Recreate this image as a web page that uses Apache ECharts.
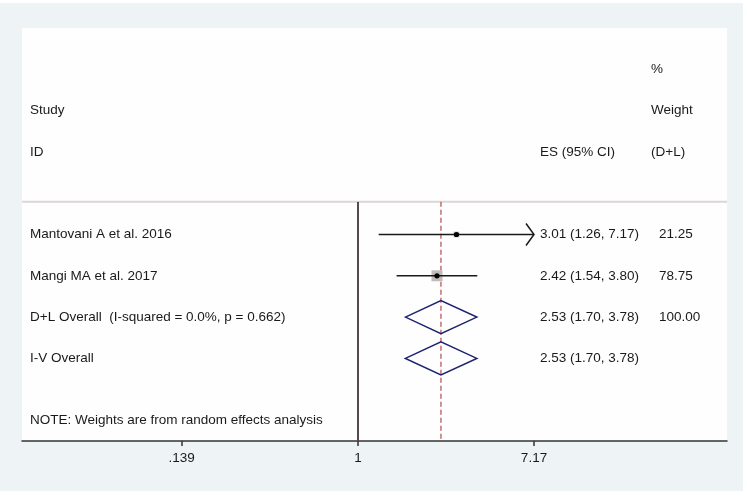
<!DOCTYPE html>
<html>
<head>
<meta charset="utf-8">
<script src="https://cdn.jsdelivr.net/npm/echarts@6/dist/echarts.min.js"></script>
<style>
html,body{margin:0;padding:0;background:#fff;}
#c{position:absolute;left:0;top:3px;width:743px;height:488px;}
</style>
</head>
<body>
<div id="c"></div>
<script>
// ---- data ----
const studyLabels = ["Mantovani A et al. 2016", "Mangi MA et al. 2017"];
const studyES = [3.01, 2.42];
const studyLo = [1.26, 1.54];
const studyHi = [7.17, 3.80];
const studyWeight = [21.25, 78.75];

const overallLabels = ["D+L Overall  (I-squared = 0.0%, p = 0.662)", "I-V Overall"];
const overallES = [2.53, 2.53];
const overallLo = [1.70, 1.70];
const overallHi = [3.78, 3.78];
const overallWeight = ["100.00", ""];

const tickValues = [0.139, 1, 7.17];
const tickLabels = [".139", "1", "7.17"];

const headerLeft = ["Study", "ID"];
const headerES = "ES (95% CI)";
const headerWeight = ["%", "Weight", "(D+L)"];
const noteText = "NOTE: Weights are from random effects analysis";

// ---- layout ----
const FONT = '13.5px "Liberation Sans", Arial, sans-serif';
const TXT = '#1a1a1a';
const sepRow = 4.21;
const firstRow = 5;
const colLabel = 8, colES = 518, colW = 629;   // offsets inside grid (text axis units)
const ln = Math.log;

// mark data: [lnES, lnLo, lnHi, row, weight, kind]
const markData = [];
studyES.forEach((v, i) => markData.push([ln(v), ln(studyLo[i]), ln(studyHi[i]), firstRow + i, studyWeight[i], 0]));
overallES.forEach((v, i) => markData.push([ln(v), ln(overallLo[i]), ln(overallHi[i]), firstRow + studyES.length + i, 0, 1]));
const maxW = Math.max(...studyWeight);
const lnMaxTick = ln(tickValues[tickValues.length - 1]);

// text data: [x, row, text]
const textData = [];
textData.push([colW, 1, headerWeight[0]]);
textData.push([colLabel, 2, headerLeft[0]]);
textData.push([colW, 2, headerWeight[1]]);
textData.push([colLabel, 3, headerLeft[1]]);
textData.push([colES, 3, headerES]);
textData.push([colW, 3, headerWeight[2]]);
const fmtCI = (e, l, h) => e.toFixed(2) + ' (' + l.toFixed(2) + ', ' + h.toFixed(2) + ')';
studyLabels.forEach((s, i) => {
  textData.push([colLabel, firstRow + i, s]);
  textData.push([colES, firstRow + i, fmtCI(studyES[i], studyLo[i], studyHi[i])]);
  textData.push([colW + 8, firstRow + i, studyWeight[i].toFixed(2)]);
});
overallLabels.forEach((s, i) => {
  const r = firstRow + studyLabels.length + i;
  textData.push([colLabel, r, s]);
  textData.push([colES, r, fmtCI(overallES[i], overallLo[i], overallHi[i])]);
  if (overallWeight[i]) textData.push([colW + 8, r, overallWeight[i]]);
});
textData.push([colLabel, 9.5, noteText]);

const xMin = -3.761, xMax = 4.130;

const chart = echarts.init(document.getElementById('c'), null, {renderer: 'canvas'});
chart.setOption({
  backgroundColor: '#eef3f5',
  animation: false,
  grid: {left: 22, right: 16, top: 25, bottom: 50, show: true, backgroundColor: '#fefefe', borderWidth: 0},
  xAxis: [{
    type: 'value', min: xMin, max: xMax,
    axisLine: {show: true, onZero: false, lineStyle: {color: '#333', width: 1.5}},
    axisTick: {show: true, customValues: tickValues.map(ln), length: 5, lineStyle: {color: '#333', width: 1.5}},
    axisLabel: {show: true, customValues: tickValues.map(ln), margin: 10, color: TXT, fontSize: 13.5,
      fontFamily: '"Liberation Sans", Arial, sans-serif',
      formatter: v => { let b = 0; tickValues.forEach((t, i) => { if (Math.abs(ln(t) - v) < Math.abs(ln(tickValues[b]) - v)) b = i; }); return tickLabels[b]; }},
    splitLine: {show: false}
  }, {
    type: 'value', min: 0, max: 705, show: false
  }],
  yAxis: {type: 'value', min: 0, max: 10, inverse: true, show: false},
  series: [{
    type: 'custom',
    xAxisIndex: 0,
    coordinateSystem: 'cartesian2d',
    data: [[0]],
    silent: true,
    renderItem: (params, api) => {
      const top = api.coord([0, sepRow])[1];
      const bot = api.coord([0, 10])[1];
      const xl = api.coord([xMin, 0])[0], xr = api.coord([xMax, 0])[0];
      const x1 = api.coord([0, 0])[0];
      const xo = api.coord([ln(overallES[0]), 0])[0];
      return {type: 'group', children: [
        {type: 'line', shape: {x1: xl, y1: top, x2: xr, y2: top}, style: {stroke: '#ddd6d6', lineWidth: 2}},
        {type: 'line', shape: {x1: x1, y1: top, x2: x1, y2: bot}, style: {stroke: '#554a4a', lineWidth: 2}},
        {type: 'line', shape: {x1: xo, y1: top, x2: xo, y2: bot}, style: {stroke: '#b85a5a', lineWidth: 1.3, lineDash: [5, 3]}}
      ]};
    }
  }, {
    type: 'custom',
    xAxisIndex: 0,
    data: markData,
    silent: true,
    renderItem: (params, api) => {
      const e = api.value(0), l = api.value(1), h = api.value(2), r = api.value(3), w = api.value(4), kind = api.value(5);
      const pe = api.coord([e, r]), pl = api.coord([l, r]), ph = api.coord([h, r]);
      const rowH = api.size([0, 1])[1];
      if (kind === 1) {
        const dh = rowH * 0.4;
        return {type: 'polygon', shape: {points: [[pl[0], pl[1]], [pe[0], pe[1] - dh], [ph[0], ph[1]], [pe[0], pe[1] + dh]]},
          style: {fill: 'none', stroke: '#1c2270', lineWidth: 1.5}};
      }
      const ch = [];
      const bs = 11 * Math.sqrt(w / maxW);
      ch.push({type: 'rect', shape: {x: pe[0] - bs / 2, y: pe[1] - bs / 2, width: bs, height: bs}, style: {fill: '#c0bcbc'}});
      ch.push({type: 'line', shape: {x1: pl[0], y1: pl[1], x2: ph[0], y2: ph[1]}, style: {stroke: '#1a1a1a', lineWidth: 1.5}});
      if (h >= lnMaxTick - 1e-6) {
        ch.push({type: 'polyline', shape: {points: [[ph[0] - 8, ph[1] - 11], [ph[0], ph[1]], [ph[0] - 8, ph[1] + 11]]},
          style: {fill: 'none', stroke: '#1a1a1a', lineWidth: 1.5}});
      }
      ch.push({type: 'circle', shape: {cx: pe[0], cy: pe[1], r: 2.6}, style: {fill: '#000'}});
      return {type: 'group', children: ch};
    }
  }, {
    type: 'custom',
    xAxisIndex: 1,
    data: textData,
    silent: true,
    renderItem: (params, api) => {
      const p = api.coord([api.value(0), api.value(1)]);
      return {type: 'text', x: p[0], y: p[1], style: {text: textData[params.dataIndex][2], font: FONT, fill: TXT, align: 'left', verticalAlign: 'middle'}};
    }
  }]
});
</script>
</body>
</html>
